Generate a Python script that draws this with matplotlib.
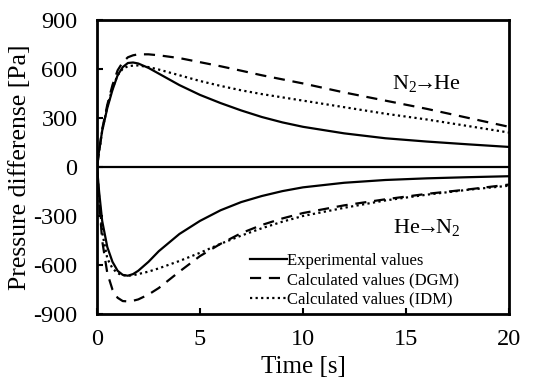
import matplotlib
matplotlib.use("Agg")
import matplotlib.pyplot as plt

plt.rcParams['font.family'] = ['Liberation Serif', 'DejaVu Serif']
plt.rcParams['mathtext.fontset'] = 'custom'
plt.rcParams['mathtext.rm'] = 'Liberation Serif'
plt.rcParams['axes.unicode_minus'] = False

# time axis [s]
t = [0, 0.1, 0.25, 0.5, 0.75, 1.0, 1.25, 1.5, 1.75, 2.0, 2.5, 3, 4, 5, 6, 7, 8,
     9, 10, 12, 14, 16, 18, 20]

# N2 -> He
exp_up = [0, 100, 220, 360, 470, 560, 610, 635, 638, 632, 605, 570, 500, 440,
          390, 345, 305, 272, 245, 205, 175, 155, 138, 122]
dgm_up = [0, 90, 230, 380, 500, 590, 640, 670, 682, 688, 688, 682, 665, 640,
          615, 588, 560, 535, 510, 455, 405, 355, 300, 245]
idm_up = [0, 90, 220, 370, 480, 560, 600, 615, 619, 620, 610, 595, 560, 525,
          495, 468, 445, 425, 405, 365, 325, 290, 250, 210]

# He -> N2
exp_lo = [0, -150, -330, -490, -580, -635, -660, -665, -655, -635, -580, -515,
          -410, -330, -265, -215, -178, -148, -125, -97, -80, -70, -63, -57]
dgm_lo = [0, -200, -450, -650, -750, -800, -820, -822, -818, -810, -780, -740,
          -640, -545, -470, -405, -355, -315, -282, -235, -198, -165, -138, -108]
idm_lo = [0, -180, -400, -560, -620, -650, -662, -665, -662, -655, -640, -620,
          -575, -525, -470, -420, -375, -335, -300, -250, -205, -170, -140, -115]

fig = plt.figure(figsize=(5.42, 3.85), dpi=100)
ax = fig.add_axes([0.179, 0.184, 0.760, 0.765])

dash = (0, (5, 3.5))
dot = (0, (1, 1.5))
ax.axhline(0, color='black', lw=1.6)
ax.plot(t, exp_up, color='black', lw=1.6, label='Experimental values')
ax.plot(t, dgm_up, color='black', lw=1.6, ls=dash, label='Calculated values (DGM)')
ax.plot(t, idm_up, color='black', lw=1.6, ls=dot, label='Calculated values (IDM)')
ax.plot(t, exp_lo, color='black', lw=1.6)
ax.plot(t, dgm_lo, color='black', lw=1.6, ls=dash)
ax.plot(t, idm_lo, color='black', lw=1.6, ls=dot)

ax.set_xlim(0, 20)
ax.set_ylim(-900, 900)
ax.set_xticks([0, 5, 10, 15, 20])
ax.set_yticks([-900, -600, -300, 0, 300, 600, 900])
ax.tick_params(direction='in', length=4, width=1.5, labelsize=17.5)
ax.tick_params(axis='x', pad=11)
ax.tick_params(axis='y', pad=14)
for s in ax.spines.values():
    s.set_linewidth(2)

ax.set_xlabel('Time [s]', fontsize=18, labelpad=4)
ax.set_ylabel('Pressure differense [Pa]', fontsize=18.5, labelpad=2)

ax.text(16.0, 507, r'N$_2\!\!\rightarrow\!\!$He', fontsize=16, ha='center', va='center')
ax.text(16.0, -377, r'He$\!\!\rightarrow\!\!$N$_2$', fontsize=16, ha='center', va='center')

ax.legend(loc='lower left', bbox_to_anchor=(0.355, 0.0), frameon=False,
          fontsize=12, handlelength=2.2, handletextpad=0.05, labelspacing=0.2,
          borderaxespad=0.2, borderpad=0.2)

fig.savefig('out.png', dpi=100)
